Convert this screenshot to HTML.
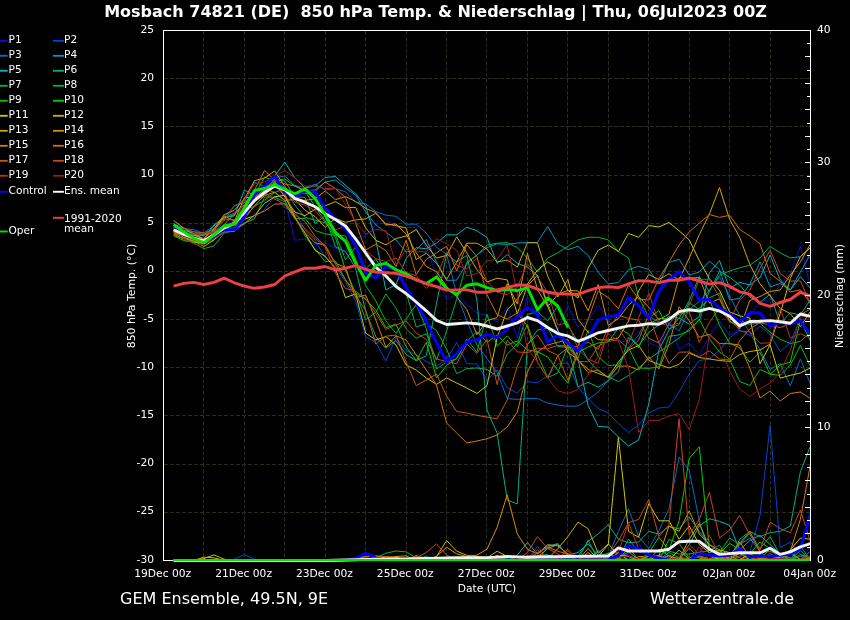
<!DOCTYPE html>
<html lang="de"><head><meta charset="utf-8"><title>Mosbach 74821 (DE) 850 hPa Temp. &amp; Niederschlag</title>
<style>html,body{margin:0;padding:0;background:#000;}body{width:850px;height:620px;overflow:hidden;}svg{display:block;will-change:transform;}text{font-family:"DejaVu Sans","Liberation Sans",sans-serif;fill:#fff;}</style></head><body>
<svg width="850" height="620" viewBox="0 0 850 620">
<rect x="0" y="0" width="850" height="620" fill="#000"/>
<text x="435.5" y="17" font-size="16" font-weight="bold" text-anchor="middle">Mosbach 74821 (DE)  850 hPa Temp. &amp; Niederschlag | Thu, 06Jul2023 00Z</text>
<g stroke="#2b2b1e" stroke-width="1" stroke-dasharray="4 2" fill="none" shape-rendering="crispEdges">
<line x1="203.5" y1="30.5" x2="203.5" y2="560.5"/>
<line x1="244.5" y1="30.5" x2="244.5" y2="560.5"/>
<line x1="284.5" y1="30.5" x2="284.5" y2="560.5"/>
<line x1="325.5" y1="30.5" x2="325.5" y2="560.5"/>
<line x1="365.5" y1="30.5" x2="365.5" y2="560.5"/>
<line x1="406.5" y1="30.5" x2="406.5" y2="560.5"/>
<line x1="446.5" y1="30.5" x2="446.5" y2="560.5"/>
<line x1="486.5" y1="30.5" x2="486.5" y2="560.5"/>
<line x1="527.5" y1="30.5" x2="527.5" y2="560.5"/>
<line x1="567.5" y1="30.5" x2="567.5" y2="560.5"/>
<line x1="608.5" y1="30.5" x2="608.5" y2="560.5"/>
<line x1="648.5" y1="30.5" x2="648.5" y2="560.5"/>
<line x1="689.5" y1="30.5" x2="689.5" y2="560.5"/>
<line x1="729.5" y1="30.5" x2="729.5" y2="560.5"/>
<line x1="770.5" y1="30.5" x2="770.5" y2="560.5"/>
<line x1="163.5" y1="512.5" x2="810.5" y2="512.5"/>
<line x1="163.5" y1="464.5" x2="810.5" y2="464.5"/>
<line x1="163.5" y1="415.5" x2="810.5" y2="415.5"/>
<line x1="163.5" y1="367.5" x2="810.5" y2="367.5"/>
<line x1="163.5" y1="319.5" x2="810.5" y2="319.5"/>
<line x1="163.5" y1="271.5" x2="810.5" y2="271.5"/>
<line x1="163.5" y1="223.5" x2="810.5" y2="223.5"/>
<line x1="163.5" y1="175.5" x2="810.5" y2="175.5"/>
<line x1="163.5" y1="126.5" x2="810.5" y2="126.5"/>
<line x1="163.5" y1="78.5" x2="810.5" y2="78.5"/>
</g>
<line x1="163.5" y1="560.5" x2="810.5" y2="560.5" stroke="#fff" stroke-width="1" shape-rendering="crispEdges"/>
<clipPath id="c"><rect x="163.5" y="29.5" width="647.5" height="533.0"/></clipPath>
<g clip-path="url(#c)" fill="none" stroke-linejoin="round" stroke-linecap="butt">
<polyline points="173.6,228.1 183.7,231.0 193.8,235.9 203.9,237.8 214.0,232.1 224.2,224.1 234.3,221.1 244.4,214.9 254.5,196.5 264.6,187.2 274.7,186.0 284.8,200.0 294.9,240.3 305.0,239.0 315.1,244.8 325.2,243.0 335.4,248.0 345.5,252.0 355.6,238.0 365.7,235.8 375.8,224.8 385.9,218.5 396.0,227.7 406.1,227.5 416.2,227.5 426.3,247.6 436.5,275.0 446.6,300.0 456.7,293.8 466.8,304.7 476.9,312.8 487.0,315.6 497.1,322.0 507.2,306.8 517.3,338.0 527.4,296.4 537.5,318.4 547.7,328.5 557.8,330.3 567.9,305.8 578.0,327.2 588.1,320.6 598.2,305.2 608.3,318.8 618.4,342.2 628.5,340.6 638.6,331.4 648.8,342.3 658.9,347.6 669.0,321.9 679.1,349.3 689.2,342.9 699.3,355.0 709.4,336.5 719.5,321.0 729.6,335.5 739.7,328.9 749.8,315.5 760.0,301.2 770.1,300.0 780.2,285.0 790.3,273.5 800.4,246.3 810.5,286.5" stroke="#0014d4" stroke-width="1.0" />
<polyline points="173.6,229.5 183.7,240.5 193.8,241.9 203.9,242.1 214.0,239.0 224.2,233.0 234.3,231.0 244.4,224.0 254.5,217.4 264.6,209.5 274.7,195.8 284.8,207.7 294.9,210.9 305.0,230.2 315.1,240.0 325.2,257.4 335.4,266.7 345.5,282.1 355.6,301.1 365.7,336.7 375.8,342.4 385.9,360.9 396.0,337.6 406.1,350.7 416.2,354.6 426.3,361.6 436.5,366.2 446.6,359.2 456.7,342.4 466.8,363.7 476.9,364.0 487.0,379.9 497.1,369.9 507.2,387.8 517.3,393.2 527.4,381.8 537.5,382.7 547.7,376.0 557.8,363.8 567.9,363.0 578.0,387.5 588.1,398.6 598.2,408.5 608.3,413.0 618.4,423.5 628.5,432.5 638.6,425.0 648.8,413.0 658.9,408.0 669.0,407.0 679.1,392.0 689.2,374.0 699.3,360.5 709.4,359.0 719.5,350.0 729.6,338.0 739.7,330.0 749.8,335.2 760.0,326.0 770.1,334.3 780.2,351.7 790.3,342.8 800.4,318.2 810.5,336.7" stroke="#0046d2" stroke-width="1.0" />
<polyline points="173.6,227.0 183.7,228.6 193.8,229.6 203.9,233.4 214.0,228.9 224.2,217.4 234.3,206.0 244.4,202.5 254.5,182.2 264.6,186.2 274.7,177.6 284.8,176.0 294.9,185.4 305.0,187.6 315.1,184.2 325.2,189.9 335.4,188.6 345.5,191.8 355.6,202.3 365.7,203.9 375.8,211.6 385.9,215.2 396.0,216.3 406.1,224.2 416.2,224.2 426.3,233.1 436.5,247.2 446.6,254.1 456.7,294.2 466.8,320.4 476.9,345.0 487.0,358.5 497.1,372.7 507.2,398.6 517.3,399.4 527.4,398.6 537.5,398.6 547.7,403.2 557.8,405.0 567.9,406.3 578.0,406.0 588.1,399.5 598.2,392.0 608.3,380.0 618.4,365.0 628.5,348.0 638.6,335.0 648.8,316.1 658.9,321.7 669.0,323.3 679.1,331.1 689.2,309.2 699.3,301.7 709.4,290.3 719.5,277.0 729.6,295.9 739.7,315.7 749.8,332.7 760.0,350.0 770.1,369.5 780.2,363.5 790.3,386.0 800.4,359.0 810.5,384.5" stroke="#006ec8" stroke-width="1.0" />
<polyline points="173.6,223.6 183.7,228.4 193.8,231.9 203.9,233.0 214.0,225.9 224.2,217.7 234.3,213.1 244.4,205.1 254.5,194.7 264.6,187.2 274.7,181.6 284.8,192.3 294.9,192.9 305.0,193.8 315.1,191.5 325.2,182.0 335.4,180.0 345.5,188.0 355.6,195.0 365.7,212.0 375.8,225.0 385.9,232.0 396.0,240.0 406.1,252.0 416.2,249.9 426.3,239.4 436.5,262.1 446.6,280.4 456.7,280.1 466.8,263.4 476.9,255.0 487.0,247.6 497.1,243.8 507.2,244.5 517.3,243.0 527.4,242.5 537.5,242.5 547.7,226.4 557.8,243.8 567.9,249.7 578.0,246.3 588.1,255.4 598.2,272.2 608.3,283.9 618.4,282.6 628.5,269.6 638.6,266.3 648.8,269.6 658.9,284.0 669.0,262.4 679.1,259.3 689.2,275.0 699.3,272.0 709.4,261.1 719.5,269.6 729.6,300.0 739.7,298.3 749.8,284.2 760.0,261.8 770.1,286.9 780.2,283.5 790.3,290.0 800.4,272.0 810.5,254.0" stroke="#0096c8" stroke-width="1.0" />
<polyline points="173.6,225.8 183.7,230.3 193.8,233.5 203.9,239.2 214.0,224.8 224.2,217.5 234.3,216.0 244.4,190.0 254.5,196.0 264.6,186.0 274.7,176.0 284.8,162.1 294.9,178.0 305.0,188.0 315.1,186.0 325.2,177.5 335.4,176.5 345.5,185.4 355.6,193.8 365.7,206.0 375.8,240.0 385.9,290.0 396.0,284.5 406.1,258.4 416.2,247.6 426.3,248.8 436.5,243.1 446.6,234.8 456.7,234.9 466.8,227.2 476.9,230.7 487.0,237.6 497.1,263.4 507.2,254.6 517.3,263.4 527.4,267.1 537.5,275.4 547.7,303.3 557.8,330.5 567.9,345.0 578.0,359.0 588.1,405.5 598.2,426.5 608.3,427.0 618.4,437.0 628.5,446.0 638.6,440.0 648.8,404.0 658.9,350.0 669.0,330.0 679.1,318.0 689.2,324.2 699.3,316.4 709.4,272.7 719.5,260.6 729.6,288.4 739.7,282.3 749.8,285.0 760.0,277.6 770.1,255.0 780.2,279.8 790.3,289.9 800.4,276.7 810.5,288.4" stroke="#00b4c3" stroke-width="1.0" />
<polyline points="173.6,228.0 183.7,227.7 193.8,233.6 203.9,234.3 214.0,228.6 224.2,218.4 234.3,214.6 244.4,202.4 254.5,197.8 264.6,191.1 274.7,179.2 284.8,181.1 294.9,196.9 305.0,197.4 315.1,223.6 325.2,215.8 335.4,246.8 345.5,251.7 355.6,268.1 365.7,311.8 375.8,336.4 385.9,348.2 396.0,340.5 406.1,354.5 416.2,360.7 426.3,355.7 436.5,303.5 446.6,254.0 456.7,261.9 466.8,255.4 476.9,300.0 487.0,410.0 497.1,433.0 507.2,500.0 517.3,504.0 527.4,345.0 537.5,330.0 547.7,327.8 557.8,346.6 567.9,347.2 578.0,386.8 588.1,382.3 598.2,387.1 608.3,380.7 618.4,371.5 628.5,337.4 638.6,345.4 648.8,332.5 658.9,324.7 669.0,316.4 679.1,318.3 689.2,300.8 699.3,276.6 709.4,291.6 719.5,271.1 729.6,277.2 739.7,285.1 749.8,297.1 760.0,302.3 770.1,294.2 780.2,323.6 790.3,312.8 800.4,315.0 810.5,299.4" stroke="#00af82" stroke-width="1.0" />
<polyline points="173.6,235.5 183.7,238.4 193.8,242.3 203.9,241.6 214.0,236.4 224.2,228.2 234.3,228.4 244.4,207.1 254.5,199.6 264.6,188.8 274.7,192.5 284.8,188.6 294.9,205.2 305.0,217.3 315.1,220.1 325.2,222.9 335.4,234.3 345.5,259.6 355.6,246.9 365.7,268.9 375.8,258.9 385.9,275.1 396.0,286.9 406.1,292.3 416.2,327.0 426.3,323.5 436.5,330.4 446.6,349.0 456.7,373.6 466.8,368.6 476.9,368.0 487.0,369.4 497.1,376.4 507.2,354.3 517.3,343.8 527.4,314.4 537.5,311.6 547.7,320.9 557.8,306.0 567.9,325.7 578.0,341.6 588.1,360.0 598.2,371.0 608.3,377.0 618.4,381.5 628.5,375.5 638.6,368.0 648.8,359.0 658.9,352.0 669.0,345.0 679.1,338.0 689.2,329.0 699.3,320.5 709.4,290.6 719.5,275.2 729.6,271.0 739.7,267.8 749.8,265.2 760.0,258.0 770.1,246.3 780.2,252.8 790.3,258.0 800.4,256.7 810.5,247.6" stroke="#00af5a" stroke-width="1.0" />
<polyline points="173.6,229.9 183.7,238.0 193.8,243.0 203.9,248.6 214.0,246.0 224.2,233.0 234.3,229.8 244.4,223.0 254.5,218.9 264.6,197.0 274.7,197.2 284.8,201.8 294.9,216.4 305.0,236.0 315.1,249.2 325.2,261.6 335.4,260.9 345.5,279.7 355.6,291.9 365.7,319.8 375.8,312.4 385.9,294.0 396.0,308.2 406.1,328.9 416.2,338.2 426.3,333.6 436.5,360.0 446.6,331.1 456.7,299.2 466.8,262.0 476.9,255.4 487.0,245.0 497.1,243.2 507.2,242.5 517.3,247.6 527.4,258.0 537.5,272.2 547.7,258.0 557.8,252.8 567.9,246.3 578.0,239.9 588.1,237.3 598.2,237.3 608.3,239.9 618.4,251.5 628.5,258.0 638.6,296.8 648.8,318.0 658.9,310.5 669.0,329.0 679.1,324.7 689.2,302.8 699.3,309.5 709.4,297.7 719.5,293.2 729.6,322.0 739.7,323.4 749.8,324.1 760.0,323.2 770.1,332.2 780.2,339.2 790.3,343.5 800.4,341.4 810.5,332.4" stroke="#00b432" stroke-width="1.0" />
<polyline points="173.6,231.1 183.7,234.4 193.8,235.0 203.9,239.6 214.0,236.4 224.2,232.2 234.3,227.8 244.4,216.9 254.5,206.3 264.6,200.2 274.7,192.4 284.8,200.6 294.9,218.6 305.0,218.3 315.1,230.6 325.2,233.8 335.4,235.3 345.5,235.9 355.6,258.9 365.7,285.5 375.8,300.9 385.9,321.0 396.0,333.3 406.1,319.0 416.2,304.5 426.3,328.5 436.5,369.0 446.6,361.9 456.7,358.9 466.8,339.2 476.9,352.1 487.0,314.3 497.1,346.2 507.2,335.9 517.3,346.6 527.4,324.5 537.5,354.5 547.7,377.6 557.8,372.9 567.9,345.2 578.0,358.3 588.1,330.4 598.2,356.5 608.3,365.4 618.4,365.0 628.5,347.6 638.6,368.0 648.8,368.4 658.9,366.9 669.0,336.3 679.1,334.8 689.2,330.9 699.3,319.3 709.4,338.8 719.5,352.0 729.6,359.0 739.7,381.5 749.8,385.4 760.0,369.5 770.1,374.0 780.2,375.5 790.3,365.0 800.4,345.5 810.5,366.5" stroke="#00be14" stroke-width="1.0" />
<polyline points="173.6,235.6 183.7,240.7 193.8,242.0 203.9,243.7 214.0,240.0 224.2,228.0 234.3,229.0 244.4,209.3 254.5,195.7 264.6,176.8 274.7,181.6 284.8,178.8 294.9,186.2 305.0,190.8 315.1,206.8 325.2,221.0 335.4,237.4 345.5,270.2 355.6,292.9 365.7,299.3 375.8,310.1 385.9,327.6 396.0,324.2 406.1,346.8 416.2,360.7 426.3,342.2 436.5,378.0 446.6,365.5 456.7,358.3 466.8,341.5 476.9,331.6 487.0,342.3 497.1,335.0 507.2,344.9 517.3,341.0 527.4,349.8 537.5,351.7 547.7,357.0 557.8,370.4 567.9,383.4 578.0,352.1 588.1,347.0 598.2,343.0 608.3,342.0 618.4,327.8 628.5,333.9 638.6,347.7 648.8,324.1 658.9,318.4 669.0,319.0 679.1,314.3 689.2,311.6 699.3,308.2 709.4,299.1 719.5,325.4 729.6,343.2 739.7,347.8 749.8,362.3 760.0,352.3 770.1,374.5 780.2,364.8 790.3,362.2 800.4,320.0 810.5,341.3" stroke="#00cd00" stroke-width="1.0" />
<polyline points="173.6,230.9 183.7,234.5 193.8,236.9 203.9,242.2 214.0,233.2 224.2,230.3 234.3,231.4 244.4,219.2 254.5,215.7 264.6,203.3 274.7,196.8 284.8,195.3 294.9,217.2 305.0,233.2 315.1,250.3 325.2,256.4 335.4,268.3 345.5,297.6 355.6,293.9 365.7,333.2 375.8,339.8 385.9,336.7 396.0,345.0 406.1,365.0 416.2,370.0 426.3,378.0 436.5,384.3 446.6,377.9 456.7,383.0 466.8,388.0 476.9,393.4 487.0,385.6 497.1,337.8 507.2,310.0 517.3,299.1 527.4,284.0 537.5,270.0 547.7,261.9 557.8,268.3 567.9,290.3 578.0,298.0 588.1,268.3 598.2,250.2 608.3,245.0 618.4,251.5 628.5,233.4 638.6,237.3 648.8,225.6 658.9,227.0 669.0,222.5 679.1,230.8 689.2,239.9 699.3,260.6 709.4,278.7 719.5,290.3 729.6,312.0 739.7,315.8 749.8,318.0 760.0,363.8 770.1,344.8 780.2,378.2 790.3,375.3 800.4,373.0 810.5,367.8" stroke="#cdc800" stroke-width="1.0" />
<polyline points="173.6,232.5 183.7,237.1 193.8,241.0 203.9,246.5 214.0,240.0 224.2,231.2 234.3,221.5 244.4,197.7 254.5,197.3 264.6,189.9 274.7,182.7 284.8,197.0 294.9,212.1 305.0,215.7 315.1,209.3 325.2,205.9 335.4,201.6 345.5,207.6 355.6,207.4 365.7,227.9 375.8,240.3 385.9,244.8 396.0,238.5 406.1,236.0 416.2,229.5 426.3,245.0 436.5,258.0 446.6,255.4 456.7,236.8 466.8,252.8 476.9,269.6 487.0,282.0 497.1,278.2 507.2,279.9 517.3,314.0 527.4,285.7 537.5,275.3 547.7,306.2 557.8,330.3 567.9,352.2 578.0,360.0 588.1,369.5 598.2,373.4 608.3,377.0 618.4,362.0 628.5,350.0 638.6,345.5 648.8,360.5 658.9,364.4 669.0,368.0 679.1,364.4 689.2,353.0 699.3,357.5 709.4,359.0 719.5,360.5 729.6,361.4 739.7,354.5 749.8,351.5 760.0,350.0 770.1,344.0 780.2,313.5 790.3,278.4 800.4,256.5 810.5,247.5" stroke="#cdb400" stroke-width="1.0" />
<polyline points="173.6,229.9 183.7,235.1 193.8,235.0 203.9,238.7 214.0,228.9 224.2,214.7 234.3,210.3 244.4,199.1 254.5,180.6 264.6,178.2 274.7,170.9 284.8,186.4 294.9,199.5 305.0,210.2 315.1,216.6 325.2,227.4 335.4,218.2 345.5,222.3 355.6,220.0 365.7,218.8 375.8,213.3 385.9,223.8 396.0,225.7 406.1,228.0 416.2,259.6 426.3,253.1 436.5,263.2 446.6,279.6 456.7,262.0 466.8,243.2 476.9,243.2 487.0,249.0 497.1,262.0 507.2,260.1 517.3,267.2 527.4,242.8 537.5,242.8 547.7,276.2 557.8,297.0 567.9,279.4 578.0,319.3 588.1,332.3 598.2,339.7 608.3,340.0 618.4,337.9 628.5,321.0 638.6,291.0 648.8,274.5 658.9,279.5 669.0,273.8 679.1,280.0 689.2,258.0 699.3,234.7 709.4,214.0 719.5,187.6 729.6,219.2 739.7,237.3 749.8,264.5 760.0,283.9 770.1,296.0 780.2,308.3 790.3,313.6 800.4,326.6 810.5,311.3" stroke="#d2a500" stroke-width="1.0" />
<polyline points="173.6,220.5 183.7,228.0 193.8,235.0 203.9,235.4 214.0,231.0 224.2,216.0 234.3,221.0 244.4,218.8 254.5,205.4 264.6,195.5 274.7,192.2 284.8,200.3 294.9,199.6 305.0,200.4 315.1,198.8 325.2,190.9 335.4,199.7 345.5,196.6 355.6,201.5 365.7,208.4 375.8,212.6 385.9,225.1 396.0,224.0 406.1,234.0 416.2,252.9 426.3,266.5 436.5,271.7 446.6,286.5 456.7,296.8 466.8,309.5 476.9,334.7 487.0,320.6 497.1,317.6 507.2,283.8 517.3,304.1 527.4,253.2 537.5,289.5 547.7,306.6 557.8,294.4 567.9,290.4 578.0,290.9 588.1,310.8 598.2,284.4 608.3,325.4 618.4,318.5 628.5,305.2 638.6,296.5 648.8,307.3 658.9,319.7 669.0,314.1 679.1,277.7 689.2,278.0 699.3,277.6 709.4,303.1 719.5,298.8 729.6,320.8 739.7,328.7 749.8,300.5 760.0,296.5 770.1,291.4 780.2,290.0 790.3,275.0 800.4,262.0 810.5,243.8" stroke="#d79100" stroke-width="1.0" />
<polyline points="173.6,234.0 183.7,239.0 193.8,240.6 203.9,244.1 214.0,236.4 224.2,231.0 234.3,229.0 244.4,223.6 254.5,215.3 264.6,211.0 274.7,204.1 284.8,203.8 294.9,218.3 305.0,232.6 315.1,242.8 325.2,245.2 335.4,263.3 345.5,267.4 355.6,297.8 365.7,295.0 375.8,319.9 385.9,347.3 396.0,335.9 406.1,340.0 416.2,355.0 426.3,370.0 436.5,385.0 446.6,423.0 456.7,433.0 466.8,443.0 476.9,441.0 487.0,438.7 497.1,435.0 507.2,427.0 517.3,412.0 527.4,372.0 537.5,352.0 547.7,345.0 557.8,342.3 567.9,339.6 578.0,360.0 588.1,372.7 598.2,369.9 608.3,377.8 618.4,366.2 628.5,366.0 638.6,370.1 648.8,356.8 658.9,369.1 669.0,344.5 679.1,306.7 689.2,320.7 699.3,337.3 709.4,334.2 719.5,343.6 729.6,343.7 739.7,345.0 749.8,368.0 760.0,398.0 770.1,391.0 780.2,401.0 790.3,393.5 800.4,392.0 810.5,398.6" stroke="#d77d00" stroke-width="1.0" />
<polyline points="173.6,231.9 183.7,234.8 193.8,239.6 203.9,240.1 214.0,232.7 224.2,224.6 234.3,214.2 244.4,205.0 254.5,190.0 264.6,170.5 274.7,180.0 284.8,184.0 294.9,185.9 305.0,190.6 315.1,190.0 325.2,182.0 335.4,188.5 345.5,197.7 355.6,223.0 365.7,250.0 375.8,244.2 385.9,250.6 396.0,266.6 406.1,240.2 416.2,274.7 426.3,259.4 436.5,252.8 446.6,246.3 456.7,271.1 466.8,244.7 476.9,256.5 487.0,294.7 497.1,314.8 507.2,319.0 517.3,313.0 527.4,326.1 537.5,362.3 547.7,378.2 557.8,355.6 567.9,347.8 578.0,346.4 588.1,319.2 598.2,291.1 608.3,297.7 618.4,308.6 628.5,284.9 638.6,299.1 648.8,300.0 658.9,278.7 669.0,262.0 679.1,245.0 689.2,232.1 699.3,223.0 709.4,214.5 719.5,217.4 729.6,215.3 739.7,229.5 749.8,236.0 760.0,243.8 770.1,273.5 780.2,281.3 790.3,292.0 800.4,289.8 810.5,303.3" stroke="#d26e00" stroke-width="1.0" />
<polyline points="173.6,234.1 183.7,234.7 193.8,239.3 203.9,238.3 214.0,229.9 224.2,219.2 234.3,219.8 244.4,207.8 254.5,197.2 264.6,195.0 274.7,186.3 284.8,193.9 294.9,214.7 305.0,221.4 315.1,236.2 325.2,245.9 335.4,264.2 345.5,280.0 355.6,296.0 365.7,310.2 375.8,344.2 385.9,336.2 396.0,335.0 406.1,362.0 416.2,385.6 426.3,380.0 436.5,374.0 446.6,396.0 456.7,411.5 466.8,413.0 476.9,415.4 487.0,417.0 497.1,418.8 507.2,400.0 517.3,366.2 527.4,344.2 537.5,335.0 547.7,350.5 557.8,355.3 567.9,380.4 578.0,348.2 588.1,341.9 598.2,349.3 608.3,328.0 618.4,315.2 628.5,318.4 638.6,320.1 648.8,338.3 658.9,343.0 669.0,363.4 679.1,352.2 689.2,352.0 699.3,356.8 709.4,350.8 719.5,359.0 729.6,360.0 739.7,340.6 749.8,328.9 760.0,322.7 770.1,325.1 780.2,327.7 790.3,323.4 800.4,314.7 810.5,309.0" stroke="#c85a0a" stroke-width="1.0" />
<polyline points="173.6,229.6 183.7,228.5 193.8,231.8 203.9,233.0 214.0,233.5 224.2,227.0 234.3,222.1 244.4,208.3 254.5,206.9 264.6,193.5 274.7,199.0 284.8,204.3 294.9,218.5 305.0,228.6 315.1,238.4 325.2,246.8 335.4,273.0 345.5,288.5 355.6,291.0 365.7,298.8 375.8,313.5 385.9,329.5 396.0,325.0 406.1,321.1 416.2,333.0 426.3,339.4 436.5,359.0 446.6,361.5 456.7,363.7 466.8,344.0 476.9,353.4 487.0,339.4 497.1,384.6 507.2,340.2 517.3,351.9 527.4,352.7 537.5,348.3 547.7,348.7 557.8,345.3 567.9,346.3 578.0,361.5 588.1,361.8 598.2,346.0 608.3,341.4 618.4,339.8 628.5,348.7 638.6,340.3 648.8,314.2 658.9,342.9 669.0,323.9 679.1,312.0 689.2,311.4 699.3,342.5 709.4,322.4 719.5,307.9 729.6,321.6 739.7,300.0 749.8,290.0 760.0,268.3 770.1,250.2 780.2,273.5 790.3,281.0 800.4,281.0 810.5,304.0" stroke="#c8461e" stroke-width="1.0" />
<polyline points="173.6,228.1 183.7,233.0 193.8,234.3 203.9,233.0 214.0,232.0 224.2,221.0 234.3,205.5 244.4,201.0 254.5,197.7 264.6,190.4 274.7,179.6 284.8,187.5 294.9,202.2 305.0,205.0 315.1,210.6 325.2,222.3 335.4,230.1 345.5,226.2 355.6,240.1 365.7,250.6 375.8,258.6 385.9,261.6 396.0,258.0 406.1,272.5 416.2,275.8 426.3,288.5 436.5,277.6 446.6,251.8 456.7,265.0 466.8,269.0 476.9,258.2 487.0,281.2 497.1,292.1 507.2,294.7 517.3,287.2 527.4,263.6 537.5,277.1 547.7,292.3 557.8,325.0 567.9,322.9 578.0,348.5 588.1,359.1 598.2,363.2 608.3,331.2 618.4,328.6 628.5,343.4 638.6,317.9 648.8,293.1 658.9,323.1 669.0,325.9 679.1,323.0 689.2,305.9 699.3,279.5 709.4,279.7 719.5,297.3 729.6,316.1 739.7,331.1 749.8,331.7 760.0,343.3 770.1,342.8 780.2,307.9 790.3,338.2 800.4,333.7 810.5,338.3" stroke="#b93223" stroke-width="1.0" />
<polyline points="173.6,228.4 183.7,238.5 193.8,244.1 203.9,244.7 214.0,238.3 224.2,233.0 234.3,224.5 244.4,199.8 254.5,183.8 264.6,182.0 274.7,176.0 284.8,170.5 294.9,178.0 305.0,186.0 315.1,186.0 325.2,188.5 335.4,188.5 345.5,204.9 355.6,222.0 365.7,234.0 375.8,229.6 385.9,230.6 396.0,264.5 406.1,249.5 416.2,251.2 426.3,252.0 436.5,238.6 446.6,243.8 456.7,250.2 466.8,276.0 476.9,273.5 487.0,260.6 497.1,259.3 507.2,245.0 517.3,294.0 527.4,349.0 537.5,362.0 547.7,377.9 557.8,390.8 567.9,393.5 578.0,389.5 588.1,375.0 598.2,355.9 608.3,333.5 618.4,341.0 628.5,368.0 638.6,432.5 648.8,420.5 658.9,420.5 669.0,416.0 679.1,413.6 689.2,429.5 699.3,399.5 709.4,335.0 719.5,345.0 729.6,371.0 739.7,389.0 749.8,396.5 760.0,389.0 770.1,383.0 780.2,372.0 790.3,350.5 800.4,316.2 810.5,316.1" stroke="#a0191e" stroke-width="1.0" />
<polyline points="173.6,560.5 183.7,560.5 193.8,560.5 203.9,560.5 214.0,560.5 224.2,560.5 234.3,560.5 244.4,560.5 254.5,560.5 264.6,560.5 274.7,560.5 284.8,560.5 294.9,560.5 305.0,560.5 315.1,560.5 325.2,560.5 335.4,560.5 345.5,560.4 355.6,560.5 365.7,560.1 375.8,560.4 385.9,560.4 396.0,560.3 406.1,560.5 416.2,560.4 426.3,559.8 436.5,560.3 446.6,560.1 456.7,560.4 466.8,559.1 476.9,560.4 487.0,560.0 497.1,560.3 507.2,560.3 517.3,559.7 527.4,559.4 537.5,559.6 547.7,559.0 557.8,559.6 567.9,559.0 578.0,559.3 588.1,559.9 598.2,560.3 608.3,559.1 618.4,557.3 628.5,554.0 638.6,543.5 648.8,560.2 658.9,555.1 669.0,557.4 679.1,558.8 689.2,560.2 699.3,550.3 709.4,556.1 719.5,559.6 729.6,558.6 739.7,554.2 749.8,560.0 760.0,552.4 770.1,560.1 780.2,558.5 790.3,558.4 800.4,560.4 810.5,546.6" stroke="#0014d4" stroke-width="1.0" />
<polyline points="173.6,560.5 183.7,560.5 193.8,560.5 203.9,560.5 214.0,560.5 224.2,560.5 234.3,559.2 244.4,554.5 254.5,559.2 264.6,560.5 274.7,560.5 284.8,560.5 294.9,560.5 305.0,560.5 315.1,560.5 325.2,560.5 335.4,560.5 345.5,560.2 355.6,559.7 365.7,560.4 375.8,560.3 385.9,560.5 396.0,559.8 406.1,559.9 416.2,556.7 426.3,560.4 436.5,560.0 446.6,560.4 456.7,558.0 466.8,560.5 476.9,559.9 487.0,559.6 497.1,560.4 507.2,560.5 517.3,559.9 527.4,560.4 537.5,546.1 547.7,560.0 557.8,558.6 567.9,553.6 578.0,555.6 588.1,560.3 598.2,549.4 608.3,560.4 618.4,559.5 628.5,559.0 638.6,559.0 648.8,560.1 658.9,559.1 669.0,557.9 679.1,557.0 689.2,558.6 699.3,556.3 709.4,558.9 719.5,560.3 729.6,559.5 739.7,556.2 749.8,552.5 760.0,515.5 770.1,425.4 780.2,547.6 790.3,542.0 800.4,554.5 810.5,556.5" stroke="#0046d2" stroke-width="1.0" />
<polyline points="173.6,560.5 183.7,560.5 193.8,560.5 203.9,560.5 214.0,560.5 224.2,560.5 234.3,560.5 244.4,560.5 254.5,560.5 264.6,560.5 274.7,560.5 284.8,560.5 294.9,560.5 305.0,560.5 315.1,560.5 325.2,560.5 335.4,560.5 345.5,560.4 355.6,560.4 365.7,560.4 375.8,560.5 385.9,560.4 396.0,560.4 406.1,560.5 416.2,560.5 426.3,560.4 436.5,560.2 446.6,558.1 456.7,559.7 466.8,558.2 476.9,559.6 487.0,560.2 497.1,560.5 507.2,559.7 517.3,559.4 527.4,556.2 537.5,559.7 547.7,559.6 557.8,560.4 567.9,559.6 578.0,560.3 588.1,557.3 598.2,560.1 608.3,556.5 618.4,531.4 628.5,508.8 638.6,536.6 648.8,548.6 658.9,530.7 669.0,508.8 679.1,457.1 689.2,470.4 699.3,520.8 709.4,555.2 719.5,557.9 729.6,559.7 739.7,552.6 749.8,557.8 760.0,559.8 770.1,553.3 780.2,560.1 790.3,559.1 800.4,556.4 810.5,558.4" stroke="#006ec8" stroke-width="1.0" />
<polyline points="173.6,560.5 183.7,560.5 193.8,560.5 203.9,560.5 214.0,560.5 224.2,560.5 234.3,560.5 244.4,560.5 254.5,560.5 264.6,560.5 274.7,560.5 284.8,560.5 294.9,560.5 305.0,560.5 315.1,560.5 325.2,560.5 335.4,560.5 345.5,560.5 355.6,558.7 365.7,560.5 375.8,560.4 385.9,560.3 396.0,557.4 406.1,560.4 416.2,560.3 426.3,556.2 436.5,560.4 446.6,558.8 456.7,559.7 466.8,560.5 476.9,559.9 487.0,560.4 497.1,559.8 507.2,559.6 517.3,559.9 527.4,559.3 537.5,560.1 547.7,547.2 557.8,543.3 567.9,556.5 578.0,559.9 588.1,560.4 598.2,558.8 608.3,558.7 618.4,559.4 628.5,539.0 638.6,551.6 648.8,554.2 658.9,559.7 669.0,555.0 679.1,560.4 689.2,559.4 699.3,559.6 709.4,560.3 719.5,558.6 729.6,555.2 739.7,544.6 749.8,538.0 760.0,551.2 770.1,560.0 780.2,560.4 790.3,560.0 800.4,545.9 810.5,560.2" stroke="#0096c8" stroke-width="1.0" />
<polyline points="173.6,560.5 183.7,560.5 193.8,560.5 203.9,560.5 214.0,560.5 224.2,560.5 234.3,560.5 244.4,560.5 254.5,560.5 264.6,560.5 274.7,560.5 284.8,560.5 294.9,560.5 305.0,560.5 315.1,560.5 325.2,560.5 335.4,560.5 345.5,560.3 355.6,559.7 365.7,560.5 375.8,558.7 385.9,559.9 396.0,560.3 406.1,560.4 416.2,557.7 426.3,558.9 436.5,560.4 446.6,560.0 456.7,557.5 466.8,560.5 476.9,559.6 487.0,559.7 497.1,556.0 507.2,560.5 517.3,555.2 527.4,542.5 537.5,553.9 547.7,545.9 557.8,544.6 567.9,555.2 578.0,552.5 588.1,543.9 598.2,555.2 608.3,553.9 618.4,558.3 628.5,551.9 638.6,559.6 648.8,559.7 658.9,549.1 669.0,556.1 679.1,560.0 689.2,544.6 699.3,526.0 709.4,518.8 719.5,521.4 729.6,525.4 739.7,549.9 749.8,540.6 760.0,535.3 770.1,544.6 780.2,553.9 790.3,558.0 800.4,560.1 810.5,557.8" stroke="#00b4c3" stroke-width="1.0" />
<polyline points="173.6,560.5 183.7,560.5 193.8,560.5 203.9,560.5 214.0,560.5 224.2,560.5 234.3,560.5 244.4,560.5 254.5,560.5 264.6,560.5 274.7,560.5 284.8,560.5 294.9,560.5 305.0,560.5 315.1,560.5 325.2,560.5 335.4,560.5 345.5,560.5 355.6,560.2 365.7,560.5 375.8,560.4 385.9,560.4 396.0,559.8 406.1,560.5 416.2,560.5 426.3,560.0 436.5,559.8 446.6,560.4 456.7,560.4 466.8,560.3 476.9,560.3 487.0,560.4 497.1,558.9 507.2,558.9 517.3,560.5 527.4,560.2 537.5,556.0 547.7,558.0 557.8,560.1 567.9,560.5 578.0,556.5 588.1,541.3 598.2,534.0 608.3,524.7 618.4,539.3 628.5,542.6 638.6,542.0 648.8,531.4 658.9,534.0 669.0,526.7 679.1,528.7 689.2,516.8 699.3,531.4 709.4,544.6 719.5,552.5 729.6,560.3 739.7,539.3 749.8,531.4 760.0,536.6 770.1,532.7 780.2,531.4 790.3,526.0 800.4,471.7 810.5,445.9" stroke="#00af82" stroke-width="1.0" />
<polyline points="173.6,560.5 183.7,560.5 193.8,560.5 203.9,560.5 214.0,560.5 224.2,560.5 234.3,560.5 244.4,560.5 254.5,560.5 264.6,560.5 274.7,560.5 284.8,560.5 294.9,560.5 305.0,560.5 315.1,560.5 325.2,560.5 335.4,560.5 345.5,560.0 355.6,560.3 365.7,559.6 375.8,559.8 385.9,560.5 396.0,560.4 406.1,558.9 416.2,559.9 426.3,560.2 436.5,557.4 446.6,560.3 456.7,558.3 466.8,560.3 476.9,559.3 487.0,558.4 497.1,556.8 507.2,559.2 517.3,560.4 527.4,558.6 537.5,555.5 547.7,554.6 557.8,560.3 567.9,559.7 578.0,560.0 588.1,540.2 598.2,560.2 608.3,560.5 618.4,554.6 628.5,556.0 638.6,558.7 648.8,558.4 658.9,555.3 669.0,550.9 679.1,554.1 689.2,554.0 699.3,552.2 709.4,550.7 719.5,545.3 729.6,559.9 739.7,560.2 749.8,559.9 760.0,559.9 770.1,548.4 780.2,559.6 790.3,560.3 800.4,550.2 810.5,560.4" stroke="#00af5a" stroke-width="1.0" />
<polyline points="173.6,560.5 183.7,560.5 193.8,560.5 203.9,560.5 214.0,560.5 224.2,560.5 234.3,560.5 244.4,560.5 254.5,560.5 264.6,560.5 274.7,560.5 284.8,560.5 294.9,560.5 305.0,560.5 315.1,560.5 325.2,560.5 335.4,560.5 345.5,560.5 355.6,559.3 365.7,560.5 375.8,557.9 385.9,553.2 396.0,551.0 406.1,551.9 416.2,557.9 426.3,560.3 436.5,557.3 446.6,560.0 456.7,560.2 466.8,560.4 476.9,560.2 487.0,557.5 497.1,560.3 507.2,560.1 517.3,559.2 527.4,560.5 537.5,560.3 547.7,560.2 557.8,557.3 567.9,559.0 578.0,555.9 588.1,560.2 598.2,551.1 608.3,560.3 618.4,552.6 628.5,560.2 638.6,559.7 648.8,559.4 658.9,560.4 669.0,539.5 679.1,543.3 689.2,557.9 699.3,556.8 709.4,559.8 719.5,552.5 729.6,538.0 739.7,544.6 749.8,532.7 760.0,548.6 770.1,536.6 780.2,555.2 790.3,558.0 800.4,559.9 810.5,559.6" stroke="#00b432" stroke-width="1.0" />
<polyline points="173.6,560.5 183.7,560.5 193.8,560.5 203.9,560.5 214.0,560.5 224.2,560.5 234.3,560.5 244.4,560.5 254.5,560.5 264.6,560.5 274.7,560.5 284.8,560.5 294.9,560.5 305.0,560.5 315.1,560.5 325.2,560.5 335.4,560.5 345.5,560.4 355.6,558.4 365.7,560.3 375.8,560.5 385.9,560.0 396.0,560.3 406.1,560.5 416.2,555.6 426.3,560.4 436.5,560.1 446.6,559.4 456.7,560.3 466.8,560.2 476.9,559.8 487.0,560.0 497.1,560.5 507.2,560.0 517.3,560.3 527.4,559.0 537.5,560.0 547.7,557.8 557.8,560.2 567.9,560.5 578.0,560.1 588.1,558.6 598.2,559.5 608.3,558.0 618.4,559.9 628.5,560.5 638.6,558.3 648.8,559.6 658.9,559.9 669.0,552.4 679.1,558.0 689.2,559.7 699.3,559.4 709.4,560.1 719.5,552.1 729.6,559.8 739.7,549.5 749.8,559.9 760.0,560.1 770.1,559.3 780.2,560.4 790.3,559.4 800.4,554.8 810.5,558.0" stroke="#00be14" stroke-width="1.0" />
<polyline points="173.6,560.5 183.7,560.5 193.8,560.5 203.9,560.5 214.0,560.5 224.2,560.5 234.3,560.5 244.4,560.5 254.5,560.5 264.6,560.5 274.7,560.5 284.8,560.5 294.9,560.5 305.0,560.5 315.1,560.5 325.2,560.5 335.4,560.5 345.5,560.5 355.6,560.4 365.7,560.1 375.8,560.3 385.9,559.7 396.0,559.6 406.1,559.9 416.2,560.4 426.3,560.0 436.5,560.0 446.6,560.4 456.7,557.2 466.8,559.7 476.9,560.3 487.0,560.4 497.1,560.3 507.2,559.4 517.3,560.3 527.4,558.9 537.5,559.6 547.7,560.5 557.8,559.6 567.9,559.0 578.0,560.3 588.1,556.9 598.2,559.9 608.3,552.8 618.4,558.8 628.5,559.7 638.6,560.3 648.8,552.8 658.9,537.3 669.0,549.9 679.1,520.8 689.2,458.5 699.3,446.6 709.4,548.6 719.5,553.9 729.6,543.3 739.7,549.9 749.8,553.9 760.0,542.0 770.1,548.6 780.2,556.5 790.3,560.5 800.4,559.5 810.5,557.0" stroke="#00cd00" stroke-width="1.0" />
<polyline points="173.6,560.5 183.7,560.5 193.8,560.5 203.9,557.2 214.0,557.9 224.2,560.5 234.3,560.5 244.4,560.5 254.5,560.5 264.6,560.5 274.7,560.5 284.8,560.5 294.9,560.5 305.0,560.5 315.1,560.5 325.2,560.5 335.4,560.5 345.5,559.7 355.6,560.4 365.7,560.1 375.8,560.3 385.9,560.5 396.0,560.3 406.1,560.4 416.2,560.4 426.3,560.3 436.5,560.3 446.6,560.2 456.7,560.2 466.8,560.5 476.9,560.3 487.0,560.2 497.1,559.5 507.2,560.1 517.3,559.4 527.4,560.5 537.5,557.6 547.7,555.6 557.8,556.2 567.9,555.5 578.0,560.0 588.1,559.5 598.2,556.5 608.3,544.6 618.4,437.3 628.5,531.4 638.6,537.3 648.8,503.5 658.9,520.8 669.0,520.8 679.1,539.3 689.2,526.0 699.3,544.6 709.4,552.5 719.5,550.1 729.6,560.5 739.7,559.8 749.8,553.8 760.0,559.1 770.1,557.9 780.2,557.3 790.3,549.9 800.4,538.0 810.5,539.3" stroke="#cdc800" stroke-width="1.0" />
<polyline points="173.6,560.5 183.7,560.5 193.8,560.5 203.9,558.5 214.0,554.9 224.2,559.2 234.3,560.5 244.4,560.5 254.5,560.5 264.6,560.5 274.7,560.5 284.8,560.5 294.9,560.5 305.0,560.5 315.1,560.5 325.2,560.5 335.4,560.5 345.5,560.5 355.6,560.3 365.7,558.8 375.8,560.5 385.9,560.5 396.0,557.9 406.1,559.9 416.2,560.4 426.3,560.4 436.5,556.5 446.6,540.6 456.7,551.2 466.8,555.2 476.9,556.5 487.0,557.9 497.1,551.2 507.2,556.5 517.3,560.2 527.4,560.3 537.5,560.0 547.7,558.8 557.8,548.6 567.9,536.6 578.0,522.1 588.1,528.7 598.2,553.2 608.3,543.9 618.4,555.2 628.5,556.5 638.6,560.5 648.8,559.7 658.9,556.3 669.0,559.5 679.1,550.2 689.2,559.1 699.3,560.4 709.4,559.9 719.5,558.0 729.6,556.2 739.7,560.2 749.8,560.3 760.0,559.6 770.1,557.4 780.2,560.2 790.3,560.2 800.4,560.4 810.5,559.2" stroke="#cdb400" stroke-width="1.0" />
<polyline points="173.6,560.5 183.7,560.5 193.8,560.5 203.9,560.5 214.0,560.5 224.2,560.5 234.3,560.5 244.4,560.5 254.5,560.5 264.6,560.5 274.7,560.5 284.8,560.5 294.9,560.5 305.0,560.5 315.1,560.5 325.2,560.5 335.4,560.5 345.5,560.4 355.6,558.5 365.7,556.5 375.8,556.5 385.9,557.9 396.0,556.5 406.1,555.9 416.2,560.3 426.3,560.0 436.5,560.4 446.6,560.2 456.7,560.5 466.8,559.2 476.9,560.2 487.0,560.3 497.1,555.3 507.2,560.5 517.3,560.1 527.4,556.2 537.5,556.0 547.7,555.6 557.8,560.0 567.9,556.2 578.0,560.3 588.1,552.6 598.2,559.9 608.3,559.8 618.4,553.1 628.5,560.4 638.6,558.9 648.8,556.1 658.9,556.6 669.0,560.2 679.1,559.2 689.2,539.3 699.3,523.4 709.4,547.2 719.5,557.8 729.6,559.0 739.7,553.3 749.8,560.1 760.0,559.8 770.1,559.6 780.2,554.2 790.3,560.2 800.4,559.8 810.5,560.3" stroke="#d2a500" stroke-width="1.0" />
<polyline points="173.6,560.5 183.7,560.5 193.8,560.5 203.9,560.5 214.0,560.5 224.2,560.5 234.3,560.5 244.4,560.5 254.5,560.5 264.6,560.5 274.7,560.5 284.8,560.5 294.9,560.5 305.0,560.5 315.1,560.5 325.2,560.5 335.4,560.5 345.5,559.9 355.6,560.3 365.7,558.1 375.8,560.4 385.9,559.1 396.0,559.7 406.1,560.4 416.2,560.2 426.3,560.2 436.5,556.5 446.6,547.2 456.7,553.9 466.8,556.5 476.9,555.2 487.0,549.2 497.1,527.4 507.2,494.9 517.3,534.0 527.4,549.2 537.5,553.9 547.7,544.6 557.8,545.9 567.9,553.9 578.0,560.1 588.1,548.4 598.2,560.1 608.3,560.1 618.4,558.9 628.5,560.5 638.6,556.6 648.8,556.5 658.9,556.2 669.0,526.0 679.1,531.4 689.2,510.8 699.3,534.0 709.4,544.6 719.5,549.9 729.6,552.5 739.7,558.0 749.8,560.0 760.0,554.8 770.1,560.3 780.2,559.6 790.3,551.6 800.4,560.1 810.5,559.6" stroke="#d79100" stroke-width="1.0" />
<polyline points="173.6,560.5 183.7,560.5 193.8,560.5 203.9,560.5 214.0,560.5 224.2,560.5 234.3,560.5 244.4,560.5 254.5,560.5 264.6,560.5 274.7,560.5 284.8,560.5 294.9,560.5 305.0,560.5 315.1,560.5 325.2,560.5 335.4,560.5 345.5,560.5 355.6,560.3 365.7,560.0 375.8,560.2 385.9,560.4 396.0,560.4 406.1,560.0 416.2,555.7 426.3,558.4 436.5,558.8 446.6,560.1 456.7,560.4 466.8,558.8 476.9,559.6 487.0,560.1 497.1,560.4 507.2,560.3 517.3,560.0 527.4,558.7 537.5,556.9 547.7,548.6 557.8,544.6 567.9,555.2 578.0,559.8 588.1,560.3 598.2,558.5 608.3,558.5 618.4,560.2 628.5,559.4 638.6,559.4 648.8,556.3 658.9,556.0 669.0,559.3 679.1,559.9 689.2,548.1 699.3,558.0 709.4,560.4 719.5,559.7 729.6,557.4 739.7,541.7 749.8,557.5 760.0,559.2 770.1,555.2 780.2,556.5 790.3,551.2 800.4,519.4 810.5,463.8" stroke="#d77d00" stroke-width="1.0" />
<polyline points="173.6,560.5 183.7,560.5 193.8,560.5 203.9,560.5 214.0,560.5 224.2,560.5 234.3,560.5 244.4,560.5 254.5,560.5 264.6,560.5 274.7,560.5 284.8,560.5 294.9,560.5 305.0,560.5 315.1,560.5 325.2,560.5 335.4,560.5 345.5,560.2 355.6,558.4 365.7,556.5 375.8,555.9 385.9,556.5 396.0,557.2 406.1,560.4 416.2,558.1 426.3,559.8 436.5,560.5 446.6,560.3 456.7,560.2 466.8,560.0 476.9,559.5 487.0,560.3 497.1,560.3 507.2,560.0 517.3,560.5 527.4,560.1 537.5,552.5 547.7,547.2 557.8,551.2 567.9,554.2 578.0,556.9 588.1,559.7 598.2,558.1 608.3,560.2 618.4,560.4 628.5,547.4 638.6,560.0 648.8,559.4 658.9,560.4 669.0,555.7 679.1,559.0 689.2,559.6 699.3,559.7 709.4,558.6 719.5,557.0 729.6,555.2 739.7,543.3 749.8,531.4 760.0,552.5 770.1,551.6 780.2,554.0 790.3,553.8 800.4,559.0 810.5,558.5" stroke="#d26e00" stroke-width="1.0" />
<polyline points="173.6,560.5 183.7,560.5 193.8,560.5 203.9,560.5 214.0,560.5 224.2,560.5 234.3,560.5 244.4,560.5 254.5,560.5 264.6,560.5 274.7,560.5 284.8,560.5 294.9,560.5 305.0,560.5 315.1,560.5 325.2,560.5 335.4,560.5 345.5,560.3 355.6,559.4 365.7,560.2 375.8,560.3 385.9,560.5 396.0,559.4 406.1,560.3 416.2,560.4 426.3,559.5 436.5,560.3 446.6,560.5 456.7,560.2 466.8,559.7 476.9,560.2 487.0,558.7 497.1,560.2 507.2,556.6 517.3,557.3 527.4,558.9 537.5,556.8 547.7,560.3 557.8,559.1 567.9,549.4 578.0,560.4 588.1,558.7 598.2,557.6 608.3,560.4 618.4,560.3 628.5,560.4 638.6,559.3 648.8,559.6 658.9,559.9 669.0,560.0 679.1,560.4 689.2,558.1 699.3,555.8 709.4,558.8 719.5,560.3 729.6,560.1 739.7,551.4 749.8,556.8 760.0,557.4 770.1,560.4 780.2,560.4 790.3,559.5 800.4,559.6 810.5,551.3" stroke="#c85a0a" stroke-width="1.0" />
<polyline points="173.6,560.5 183.7,560.5 193.8,560.5 203.9,560.5 214.0,560.5 224.2,560.5 234.3,560.5 244.4,560.5 254.5,560.5 264.6,560.5 274.7,560.5 284.8,560.5 294.9,560.5 305.0,560.5 315.1,560.5 325.2,560.5 335.4,560.5 345.5,560.5 355.6,560.3 365.7,560.3 375.8,560.1 385.9,559.4 396.0,559.9 406.1,560.4 416.2,557.9 426.3,552.5 436.5,543.8 446.6,555.2 456.7,559.2 466.8,559.2 476.9,558.1 487.0,560.4 497.1,558.4 507.2,556.6 517.3,560.3 527.4,552.5 537.5,536.6 547.7,548.6 557.8,553.9 567.9,560.5 578.0,560.3 588.1,557.3 598.2,560.4 608.3,555.2 618.4,540.6 628.5,522.7 638.6,519.4 648.8,499.6 658.9,536.6 669.0,524.7 679.1,418.7 689.2,534.7 699.3,519.4 709.4,492.3 719.5,538.0 729.6,530.0 739.7,515.5 749.8,534.7 760.0,549.9 770.1,522.1 780.2,528.7 790.3,532.7 800.4,510.1 810.5,542.0" stroke="#c8461e" stroke-width="1.0" />
<polyline points="173.6,560.5 183.7,560.5 193.8,560.5 203.9,560.5 214.0,560.5 224.2,560.5 234.3,560.5 244.4,560.5 254.5,560.5 264.6,560.5 274.7,560.5 284.8,560.5 294.9,560.5 305.0,560.5 315.1,560.5 325.2,560.5 335.4,560.5 345.5,560.4 355.6,559.8 365.7,559.0 375.8,560.1 385.9,560.4 396.0,560.1 406.1,559.6 416.2,556.6 426.3,560.5 436.5,560.0 446.6,559.9 456.7,560.0 466.8,560.4 476.9,559.7 487.0,560.3 497.1,560.1 507.2,559.5 517.3,559.7 527.4,560.2 537.5,549.7 547.7,559.9 557.8,558.7 567.9,559.8 578.0,560.3 588.1,559.4 598.2,558.1 608.3,554.7 618.4,552.5 628.5,522.7 638.6,548.6 648.8,556.5 658.9,559.9 669.0,559.4 679.1,557.8 689.2,544.8 699.3,553.9 709.4,535.3 719.5,555.2 729.6,560.4 739.7,556.2 749.8,554.0 760.0,560.5 770.1,558.5 780.2,559.0 790.3,560.0 800.4,559.7 810.5,556.5" stroke="#b93223" stroke-width="1.0" />
<polyline points="173.6,560.5 183.7,560.5 193.8,560.5 203.9,560.5 214.0,560.5 224.2,560.5 234.3,560.5 244.4,560.5 254.5,560.5 264.6,560.5 274.7,560.5 284.8,560.5 294.9,560.5 305.0,560.5 315.1,560.5 325.2,560.5 335.4,560.5 345.5,560.4 355.6,560.5 365.7,557.6 375.8,560.1 385.9,559.5 396.0,560.0 406.1,560.4 416.2,557.8 426.3,560.3 436.5,557.3 446.6,560.3 456.7,560.3 466.8,560.4 476.9,559.8 487.0,560.5 497.1,560.5 507.2,560.3 517.3,560.1 527.4,556.7 537.5,560.2 547.7,559.0 557.8,560.2 567.9,550.8 578.0,559.8 588.1,559.9 598.2,560.0 608.3,559.8 618.4,557.3 628.5,556.1 638.6,559.2 648.8,554.7 658.9,560.5 669.0,560.1 679.1,559.9 689.2,560.1 699.3,546.9 709.4,559.8 719.5,560.1 729.6,560.2 739.7,560.5 749.8,556.2 760.0,560.2 770.1,558.4 780.2,559.0 790.3,559.0 800.4,560.3 810.5,559.3" stroke="#a0191e" stroke-width="1.0" />
<polyline points="173.6,228.5 183.7,233.7 193.8,238.2 203.9,241.5 214.0,236.3 224.2,229.8 234.3,229.8 244.4,217.5 254.5,194.2 264.6,186.0 274.7,176.4 284.8,192.5 294.9,197.0 305.0,190.6 315.1,191.9 325.2,208.0 335.4,219.4 345.5,229.0 355.6,245.3 365.7,273.0 375.8,277.8 385.9,266.5 396.0,269.2 406.1,287.8 416.2,302.7 426.3,321.0 436.5,343.0 446.6,362.0 456.7,353.6 466.8,342.0 476.9,339.8 487.0,334.4 497.1,337.5 507.2,329.0 517.3,316.0 527.4,307.6 537.5,314.0 547.7,342.0 557.8,335.1 567.9,342.8 578.0,351.2 588.1,338.2 598.2,319.8 608.3,316.7 618.4,315.2 628.5,297.6 638.6,306.0 648.8,318.1 658.9,291.0 669.0,279.5 679.1,271.6 689.2,281.8 699.3,300.2 709.4,299.5 719.5,307.9 729.6,314.0 739.7,321.7 749.8,312.5 760.0,313.0 770.1,326.3 780.2,322.1 790.3,323.2 800.4,321.4 810.5,334.4" stroke="#0000ff" stroke-width="2.9" />
<polyline points="173.6,560.5 183.7,560.5 193.8,560.5 203.9,560.5 214.0,560.5 224.2,560.5 234.3,560.5 244.4,560.5 254.5,560.5 264.6,560.5 274.7,560.5 284.8,560.5 294.9,560.5 305.0,560.5 315.1,560.5 325.2,560.5 335.4,560.5 345.5,560.5 355.6,558.5 365.7,553.2 375.8,557.9 385.9,560.5 396.0,560.5 406.1,560.4 416.2,560.4 426.3,560.4 436.5,560.3 446.6,560.3 456.7,560.3 466.8,560.3 476.9,560.2 487.0,560.2 497.1,560.2 507.2,560.1 517.3,560.1 527.4,560.1 537.5,560.0 547.7,560.0 557.8,560.0 567.9,560.0 578.0,559.9 588.1,559.9 598.2,559.9 608.3,559.8 618.4,555.2 628.5,545.9 638.6,548.6 648.8,555.2 658.9,558.1 669.0,560.2 679.1,560.4 689.2,560.5 699.3,553.9 709.4,554.9 719.5,556.0 729.6,555.2 739.7,548.6 749.8,557.1 760.0,556.0 770.1,556.8 780.2,555.2 790.3,553.9 800.4,549.2 810.5,513.5" stroke="#0000ff" stroke-width="2.9" />
<polyline points="173.6,229.8 183.7,234.4 193.8,238.2 203.9,240.8 214.0,235.0 224.2,227.9 234.3,223.4 244.4,212.4 254.5,200.5 264.6,192.5 274.7,186.0 284.8,190.0 294.9,198.4 305.0,202.2 315.1,206.8 325.2,213.7 335.4,219.5 345.5,226.0 355.6,238.8 365.7,253.0 375.8,267.2 385.9,276.0 396.0,286.5 406.1,293.6 416.2,302.0 426.3,310.8 436.5,320.4 446.6,324.5 456.7,323.7 466.8,322.9 476.9,323.7 487.0,326.0 497.1,329.0 507.2,326.0 517.3,322.9 527.4,317.5 537.5,320.6 547.7,327.5 557.8,333.6 567.9,335.9 578.0,341.3 588.1,337.4 598.2,332.8 608.3,330.5 618.4,328.2 628.5,325.9 638.6,325.2 648.8,323.6 658.9,324.3 669.0,319.4 679.1,311.7 689.2,309.7 699.3,311.0 709.4,308.3 719.5,311.0 729.6,316.3 739.7,326.0 749.8,321.5 760.0,321.3 770.1,320.6 780.2,321.7 790.3,323.2 800.4,314.0 810.5,316.3" stroke="#f2f2f2" stroke-width="2.9" />
<polyline points="173.6,560.5 183.7,560.5 193.8,560.5 203.9,560.5 214.0,560.5 224.2,560.5 234.3,560.5 244.4,560.5 254.5,560.5 264.6,560.5 274.7,560.5 284.8,560.5 294.9,560.5 305.0,560.5 315.1,560.5 325.2,560.5 335.4,560.2 345.5,560.0 355.6,559.7 365.7,559.4 375.8,559.3 385.9,559.2 396.0,559.0 406.1,558.9 416.2,558.6 426.3,558.4 436.5,558.1 446.6,557.9 456.7,557.8 466.8,557.7 476.9,557.7 487.0,557.6 497.1,557.1 507.2,556.5 517.3,556.9 527.4,557.2 537.5,557.0 547.7,556.9 557.8,556.7 567.9,556.5 578.0,556.4 588.1,556.3 598.2,556.1 608.3,556.0 618.4,547.9 628.5,551.0 638.6,551.0 648.8,551.0 658.9,551.0 669.0,549.2 679.1,541.7 689.2,541.3 699.3,541.3 709.4,549.2 719.5,554.4 729.6,553.6 739.7,552.8 749.8,552.8 760.0,552.8 770.1,548.2 780.2,554.4 790.3,551.9 800.4,546.9 810.5,543.7" stroke="#f2f2f2" stroke-width="2.9" />
<polyline points="173.6,224.6 183.7,231.8 193.8,238.2 203.9,242.8 214.0,235.0 224.2,226.0 234.3,224.0 244.4,207.8 254.5,190.4 264.6,188.5 274.7,184.8 284.8,189.3 294.9,193.8 305.0,188.9 315.1,198.4 325.2,215.0 335.4,232.4 345.5,241.4 355.6,263.0 365.7,280.2 375.8,265.3 385.9,263.3 396.0,269.8 406.1,273.7 416.2,280.0 426.3,283.5 436.5,276.9 446.6,288.5 456.7,294.5 466.8,285.3 476.9,283.8 487.0,287.6 497.1,290.7 507.2,289.2 517.3,290.7 527.4,287.6 537.5,309.8 547.7,298.0 557.8,306.0 567.9,327.5" stroke="#00e400" stroke-width="2.9" />
<polyline points="173.6,286.2 183.7,283.4 193.8,282.4 203.9,284.5 214.0,282.4 224.2,278.1 234.3,282.8 244.4,286.2 254.5,288.3 264.6,287.0 274.7,284.5 284.8,276.0 294.9,271.8 305.0,268.2 315.1,268.2 325.2,266.5 335.4,270.0 345.5,268.2 355.6,265.6 365.7,269.5 375.8,272.0 385.9,272.7 396.0,273.4 406.1,276.2 416.2,279.5 426.3,283.9 436.5,286.7 446.6,290.1 456.7,289.9 466.8,289.9 476.9,292.2 487.0,292.2 497.1,289.9 507.2,287.6 517.3,284.9 527.4,285.3 537.5,289.1 547.7,292.2 557.8,293.7 567.9,294.0 578.0,294.5 588.1,290.7 598.2,287.6 608.3,286.8 618.4,287.6 628.5,283.8 638.6,280.7 648.8,281.1 658.9,282.6 669.0,280.3 679.1,280.3 689.2,278.0 699.3,281.0 709.4,284.1 719.5,282.6 729.6,286.4 739.7,291.8 749.8,294.1 760.0,303.3 770.1,306.4 780.2,302.5 790.3,299.5 800.4,292.3 810.5,296.1" stroke="#ee4046" stroke-width="2.9" />
<polyline points="173.6,560.0 183.7,560.0 193.8,560.0 203.9,560.0 214.0,560.0 224.2,560.0 234.3,560.0 244.4,560.0 254.5,560.0 264.6,560.0 274.7,560.0 284.8,560.0 294.9,560.0 305.0,560.0 315.1,560.0 325.2,560.0 335.4,560.0 345.5,560.0 355.6,560.0 365.7,560.0 375.8,560.0 385.9,560.0 396.0,560.0 406.1,560.0 416.2,560.0 426.3,560.0 436.5,560.0 446.6,560.0 456.7,560.0 466.8,560.0 476.9,560.0 487.0,560.0 497.1,560.0 507.2,560.0 517.3,560.0 527.4,560.0 537.5,560.0 547.7,560.0 557.8,560.0 567.9,560.0 578.0,560.0 588.1,560.0 598.2,560.0 608.3,560.0 618.4,560.0 628.5,560.0 638.6,560.0 648.8,560.0 658.9,560.0 669.0,560.0 679.1,560.0 689.2,560.0 699.3,560.0 709.4,560.0 719.5,560.0 729.6,560.0 739.7,560.0 749.8,560.0 760.0,560.0 770.1,560.0 780.2,560.0 790.3,560.0 800.4,560.0 810.5,560.0" stroke="#00e400" stroke-width="2.1" />
</g>
<g stroke="#fff" stroke-width="1" fill="none" shape-rendering="crispEdges">
<polyline points="163.5,561.0 163.5,30.5 810.5,30.5 810.5,561.0"/>
</g>
<g stroke="#fff" stroke-width="1" fill="none">
<line x1="807.0" y1="547.5" x2="810.5" y2="547.5"/>
<line x1="805.0" y1="533.5" x2="810.5" y2="533.5"/>
<line x1="807.0" y1="520.5" x2="810.5" y2="520.5"/>
<line x1="805.0" y1="507.5" x2="810.5" y2="507.5"/>
<line x1="807.0" y1="494.5" x2="810.5" y2="494.5"/>
<line x1="805.0" y1="480.5" x2="810.5" y2="480.5"/>
<line x1="807.0" y1="467.5" x2="810.5" y2="467.5"/>
<line x1="805.0" y1="454.5" x2="810.5" y2="454.5"/>
<line x1="807.0" y1="441.5" x2="810.5" y2="441.5"/>
<line x1="805.0" y1="427.5" x2="810.5" y2="427.5"/>
<line x1="807.0" y1="414.5" x2="810.5" y2="414.5"/>
<line x1="805.0" y1="401.5" x2="810.5" y2="401.5"/>
<line x1="807.0" y1="388.5" x2="810.5" y2="388.5"/>
<line x1="805.0" y1="374.5" x2="810.5" y2="374.5"/>
<line x1="807.0" y1="361.5" x2="810.5" y2="361.5"/>
<line x1="805.0" y1="348.5" x2="810.5" y2="348.5"/>
<line x1="807.0" y1="335.5" x2="810.5" y2="335.5"/>
<line x1="805.0" y1="321.5" x2="810.5" y2="321.5"/>
<line x1="807.0" y1="308.5" x2="810.5" y2="308.5"/>
<line x1="805.0" y1="295.5" x2="810.5" y2="295.5"/>
<line x1="807.0" y1="282.5" x2="810.5" y2="282.5"/>
<line x1="805.0" y1="268.5" x2="810.5" y2="268.5"/>
<line x1="807.0" y1="255.5" x2="810.5" y2="255.5"/>
<line x1="805.0" y1="242.5" x2="810.5" y2="242.5"/>
<line x1="807.0" y1="229.5" x2="810.5" y2="229.5"/>
<line x1="805.0" y1="215.5" x2="810.5" y2="215.5"/>
<line x1="807.0" y1="202.5" x2="810.5" y2="202.5"/>
<line x1="805.0" y1="189.5" x2="810.5" y2="189.5"/>
<line x1="807.0" y1="176.5" x2="810.5" y2="176.5"/>
<line x1="805.0" y1="162.5" x2="810.5" y2="162.5"/>
<line x1="807.0" y1="149.5" x2="810.5" y2="149.5"/>
<line x1="805.0" y1="136.5" x2="810.5" y2="136.5"/>
<line x1="807.0" y1="123.5" x2="810.5" y2="123.5"/>
<line x1="805.0" y1="109.5" x2="810.5" y2="109.5"/>
<line x1="807.0" y1="96.5" x2="810.5" y2="96.5"/>
<line x1="805.0" y1="83.5" x2="810.5" y2="83.5"/>
<line x1="807.0" y1="70.5" x2="810.5" y2="70.5"/>
<line x1="805.0" y1="56.5" x2="810.5" y2="56.5"/>
<line x1="807.0" y1="43.5" x2="810.5" y2="43.5"/>
</g>
<g font-size="10.7">
<text x="154.0" y="563.0" text-anchor="end">-30</text>
<text x="154.0" y="514.0" text-anchor="end">-25</text>
<text x="154.0" y="466.0" text-anchor="end">-20</text>
<text x="154.0" y="418.0" text-anchor="end">-15</text>
<text x="154.0" y="370.0" text-anchor="end">-10</text>
<text x="154.0" y="322.0" text-anchor="end">-5</text>
<text x="154.0" y="273.0" text-anchor="end">0</text>
<text x="154.0" y="225.0" text-anchor="end">5</text>
<text x="154.0" y="177.0" text-anchor="end">10</text>
<text x="154.0" y="129.0" text-anchor="end">15</text>
<text x="154.0" y="81.0" text-anchor="end">20</text>
<text x="154.0" y="33.0" text-anchor="end">25</text>
<text x="817.0" y="563.0">0</text>
<text x="817.0" y="430.0">10</text>
<text x="817.0" y="298.0">20</text>
<text x="817.0" y="165.0">30</text>
<text x="817.0" y="33.0">40</text>
<text x="162.7" y="577" text-anchor="middle">19Dec 00z</text>
<text x="243.6" y="577" text-anchor="middle">21Dec 00z</text>
<text x="324.4" y="577" text-anchor="middle">23Dec 00z</text>
<text x="405.3" y="577" text-anchor="middle">25Dec 00z</text>
<text x="486.2" y="577" text-anchor="middle">27Dec 00z</text>
<text x="567.1" y="577" text-anchor="middle">29Dec 00z</text>
<text x="648.0" y="577" text-anchor="middle">31Dec 00z</text>
<text x="728.8" y="577" text-anchor="middle">02Jan 00z</text>
<text x="809.7" y="577" text-anchor="middle">04Jan 00z</text>
<text x="487.0" y="592.3" text-anchor="middle">Date (UTC)</text>
<text font-size="10.85" transform="translate(135,296.0) rotate(-90)" text-anchor="middle">850 hPa Temp. (°C)</text>
<text font-size="10.85" transform="translate(843,296.0) rotate(-90)" text-anchor="middle">Niederschlag (mm)</text>
</g>
<text x="120" y="604" font-size="16">GEM Ensemble, 49.5N, 9E</text>
<text x="794" y="604" font-size="16" text-anchor="end">Wetterzentrale.de</text>
<g font-size="10.6">
<line x1="0" y1="40.8" x2="7.7" y2="40.8" stroke="#0014d4" stroke-width="1.8"/>
<text x="8.5" y="43.0">P1</text>
<line x1="53" y1="40.8" x2="63.9" y2="40.8" stroke="#0046d2" stroke-width="1.8"/>
<text x="64" y="43.0">P2</text>
<line x1="0" y1="55.8" x2="7.7" y2="55.8" stroke="#006ec8" stroke-width="1.8"/>
<text x="8.5" y="58.0">P3</text>
<line x1="53" y1="55.8" x2="63.9" y2="55.8" stroke="#0096c8" stroke-width="1.8"/>
<text x="64" y="58.0">P4</text>
<line x1="0" y1="70.8" x2="7.7" y2="70.8" stroke="#00b4c3" stroke-width="1.8"/>
<text x="8.5" y="73.0">P5</text>
<line x1="53" y1="70.8" x2="63.9" y2="70.8" stroke="#00af82" stroke-width="1.8"/>
<text x="64" y="73.0">P6</text>
<line x1="0" y1="85.8" x2="7.7" y2="85.8" stroke="#00af5a" stroke-width="1.8"/>
<text x="8.5" y="88.0">P7</text>
<line x1="53" y1="85.8" x2="63.9" y2="85.8" stroke="#00b432" stroke-width="1.8"/>
<text x="64" y="88.0">P8</text>
<line x1="0" y1="100.8" x2="7.7" y2="100.8" stroke="#00be14" stroke-width="1.8"/>
<text x="8.5" y="103.0">P9</text>
<line x1="53" y1="100.8" x2="63.9" y2="100.8" stroke="#00cd00" stroke-width="1.8"/>
<text x="64" y="103.0">P10</text>
<line x1="0" y1="115.8" x2="7.7" y2="115.8" stroke="#cdc800" stroke-width="1.8"/>
<text x="8.5" y="118.0">P11</text>
<line x1="53" y1="115.8" x2="63.9" y2="115.8" stroke="#cdb400" stroke-width="1.8"/>
<text x="64" y="118.0">P12</text>
<line x1="0" y1="130.8" x2="7.7" y2="130.8" stroke="#d2a500" stroke-width="1.8"/>
<text x="8.5" y="133.0">P13</text>
<line x1="53" y1="130.8" x2="63.9" y2="130.8" stroke="#d79100" stroke-width="1.8"/>
<text x="64" y="133.0">P14</text>
<line x1="0" y1="145.8" x2="7.7" y2="145.8" stroke="#d77d00" stroke-width="1.8"/>
<text x="8.5" y="148.0">P15</text>
<line x1="53" y1="145.8" x2="63.9" y2="145.8" stroke="#d26e00" stroke-width="1.8"/>
<text x="64" y="148.0">P16</text>
<line x1="0" y1="160.8" x2="7.7" y2="160.8" stroke="#c85a0a" stroke-width="1.8"/>
<text x="8.5" y="163.0">P17</text>
<line x1="53" y1="160.8" x2="63.9" y2="160.8" stroke="#c8461e" stroke-width="1.8"/>
<text x="64" y="163.0">P18</text>
<line x1="0" y1="175.8" x2="7.7" y2="175.8" stroke="#b93223" stroke-width="1.8"/>
<text x="8.5" y="178.0">P19</text>
<line x1="53" y1="175.8" x2="63.9" y2="175.8" stroke="#a0191e" stroke-width="1.8"/>
<text x="64" y="178.0">P20</text>
<line x1="0" y1="191.8" x2="7.7" y2="191.8" stroke="#0000ff" stroke-width="1.9"/>
<text x="8.5" y="194.0">Control</text>
<line x1="53" y1="191.8" x2="63.9" y2="191.8" stroke="#ffffff" stroke-width="1.9"/>
<text x="64" y="194.0">Ens. mean</text>
<line x1="53" y1="217.8" x2="63.9" y2="217.8" stroke="#f04040" stroke-width="1.9"/>
<text x="64" y="221.5">1991-2020</text>
<text x="64" y="232.0">mean</text>
<line x1="0" y1="231.5" x2="7.7" y2="231.5" stroke="#00e400" stroke-width="1.9"/>
<text x="8.5" y="233.7">Oper</text>
</g>
</svg></body></html>
